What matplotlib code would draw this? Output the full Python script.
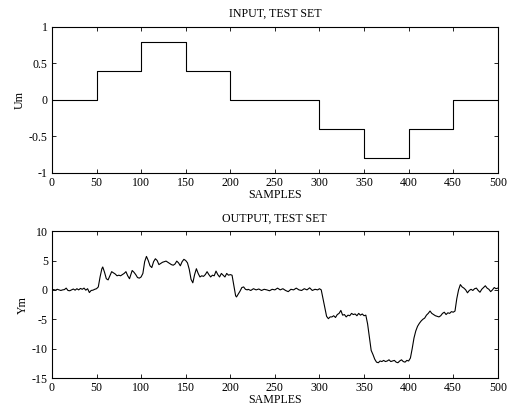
import matplotlib
matplotlib.use("Agg")
import matplotlib.pyplot as plt

plt.rcParams['font.family'] = ['Liberation Serif', 'DejaVu Serif']
plt.rcParams['font.size'] = 8.6

# Input: step levels between breakpoints
input_breaks = [0, 50, 100, 150, 200, 250, 300, 350, 400, 450, 500]
input_levels = [0, 0.4, 0.8, 0.4, 0, 0, -0.4, -0.8, -0.4, 0]

# Output samples
out_x = [0, 2, 4, 6, 8, 10, 12, 14, 16, 18, 20, 22, 24, 26, 28, 30, 32, 34, 36, 38,
         40, 42, 44, 46, 48, 50, 52, 54, 56, 57, 59, 61, 63, 65, 67, 69, 71, 73, 75, 77,
         79, 81, 83, 85, 87, 89, 90, 92, 94, 96, 98, 100, 102, 104, 106, 108, 110, 112, 114, 116,
         118, 120, 122, 124, 126, 128, 130, 132, 134, 136, 138, 140, 142, 144, 146, 148, 150, 152, 154, 156,
         158, 160, 162, 164, 166, 168, 170, 172, 174, 176, 178, 180, 182, 184, 186, 188, 190, 192, 194, 196,
         198, 200, 202, 204, 206, 207, 209, 211, 213, 215, 217, 219, 220, 223, 226, 229, 232, 235, 238, 241,
         244, 247, 250, 253, 256, 259, 262, 265, 268, 271, 274, 277, 280, 283, 286, 289, 292, 295, 298, 300,
         302, 304, 306, 308, 310, 312, 314, 316, 318, 320, 322, 324, 326, 328, 330, 332, 334, 336, 338, 340,
         342, 344, 346, 348, 350, 352, 354, 356, 358, 360, 362, 364, 366, 368, 370, 372, 374, 376, 378, 380,
         382, 384, 386, 388, 390, 392, 394, 396, 398, 400, 402, 404, 406, 408, 410, 412, 414, 416, 418, 420,
         422, 424, 426, 428, 430, 432, 434, 436, 438, 440, 442, 444, 446, 448, 450, 452, 454, 456, 458, 460,
         462, 464, 466, 468, 470, 472, 474, 476, 478, 480, 482, 484, 486, 488, 490, 492, 494, 496, 498, 500]
out_y = [0.0, 0.05, -0.05, 0.1, 0.0, -0.1, 0.0, 0.05, 0.3, -0.1, -0.15, 0.0, 0.15, -0.05, 0.2, 0.0, 0.25, 0.1, 0.3, -0.05,
         0.2, -0.45, -0.1, -0.05, 0.1, 0.2, 0.5, 2.2, 3.6, 3.9, 3.0, 1.9, 1.7, 2.4, 3.1, 2.9, 2.7, 2.4, 2.5, 2.4,
         2.6, 2.8, 3.1, 2.4, 1.9, 2.8, 3.3, 3.0, 2.6, 2.1, 2.0, 2.2, 2.8, 4.8, 5.7, 5.0, 4.1, 3.8, 4.8, 5.3,
         5.0, 4.3, 4.5, 4.7, 4.8, 4.9, 4.7, 4.5, 4.3, 4.2, 4.4, 4.9, 4.6, 4.1, 4.8, 5.2, 5.0, 4.6, 3.5, 1.8,
         1.2, 2.6, 3.6, 2.8, 2.2, 2.4, 2.3, 2.6, 3.1, 2.6, 2.2, 2.5, 2.4, 3.2, 2.6, 2.2, 2.8, 2.5, 2.2, 2.8,
         2.5, 2.6, 2.5, 0.8, -1.0, -1.2, -0.7, -0.2, 0.4, 0.5, 0.1, 0.0, 0.1, -0.1, 0.2, 0.0, 0.15, -0.1, 0.1, 0.0,
         -0.15, 0.1, 0.0, 0.3, 0.0, 0.2, -0.1, -0.3, 0.1, 0.0, 0.3, 0.0, -0.1, 0.2, 0.0, 0.35, -0.1, 0.1, 0.0, 0.2,
         0.0, -1.5, -3.0, -4.5, -4.9, -4.6, -4.6, -4.4, -4.7, -4.2, -4.0, -3.5, -4.3, -4.2, -4.6, -4.3, -4.4, -4.0, -4.2, -4.1,
         -4.4, -4.0, -4.3, -4.1, -4.4, -4.3, -5.8, -8.0, -10.3, -11.0, -11.8, -12.3, -12.4, -12.1, -12.2, -12.0, -12.2, -12.1, -11.9, -12.2,
         -12.1, -12.0, -12.3, -12.4, -12.1, -11.9, -12.2, -12.3, -12.0, -12.1, -11.6, -10.0, -8.2, -7.0, -6.2, -5.7, -5.3, -5.0, -4.8, -4.3,
         -4.0, -3.6, -4.0, -4.2, -4.4, -4.5, -4.6, -4.4, -4.0, -3.8, -4.2, -3.9, -4.0, -3.7, -3.8, -3.6, -1.5, 0.0, 0.9, 0.5,
         0.3, 0.0, -0.5, -0.1, 0.1, -0.1, 0.2, 0.3, -0.1, -0.4, 0.1, 0.4, 0.7, 0.3, 0.1, -0.3, 0.0, 0.4, 0.2, 0.3]

x_ticks = [0, 50, 100, 150, 200, 250, 300, 350, 400, 450, 500]

fig = plt.figure(figsize=(5.09, 4.08), dpi=100)
ax1 = fig.add_axes([0.102, 0.576, 0.876, 0.358])
ax2 = fig.add_axes([0.102, 0.0735, 0.876, 0.360])

ax1.plot(input_breaks, input_levels + [input_levels[-1]], drawstyle='steps-post',
         color='black', lw=0.8)
ax1.set_xlim(0, 500)
ax1.set_ylim(-1, 1)
ax1.set_yticks([-1, -0.5, 0, 0.5, 1])
ax1.set_yticklabels(['-1', '-0.5', '0', '0.5', '1'])
ax1.set_title('INPUT, TEST SET', fontsize=8.6, pad=7)
ax1.set_ylabel('Um', labelpad=2)
ax1.set_xlabel('SAMPLES', labelpad=0)

ax2.plot(out_x, out_y, color='black', lw=0.8)
ax2.set_xlim(0, 500)
ax2.set_ylim(-15, 10)
ax2.set_yticks([-15, -10, -5, 0, 5, 10])
ax2.set_yticklabels(['-15', '-10', '-5', '0', '5', '10'])
ax2.set_title('OUTPUT, TEST SET', fontsize=8.6, pad=7)
ax2.set_ylabel('Ym', labelpad=2)
ax2.set_xlabel('SAMPLES', labelpad=0)

for ax in (ax1, ax2):
    ax.set_xticks(x_ticks)
    ax.tick_params(direction='in', top=True, right=True, length=3, width=0.6, pad=3, labelsize=8.6)
    for sp in ax.spines.values():
        sp.set_linewidth(0.8)

fig.savefig('out.png', dpi=100)
